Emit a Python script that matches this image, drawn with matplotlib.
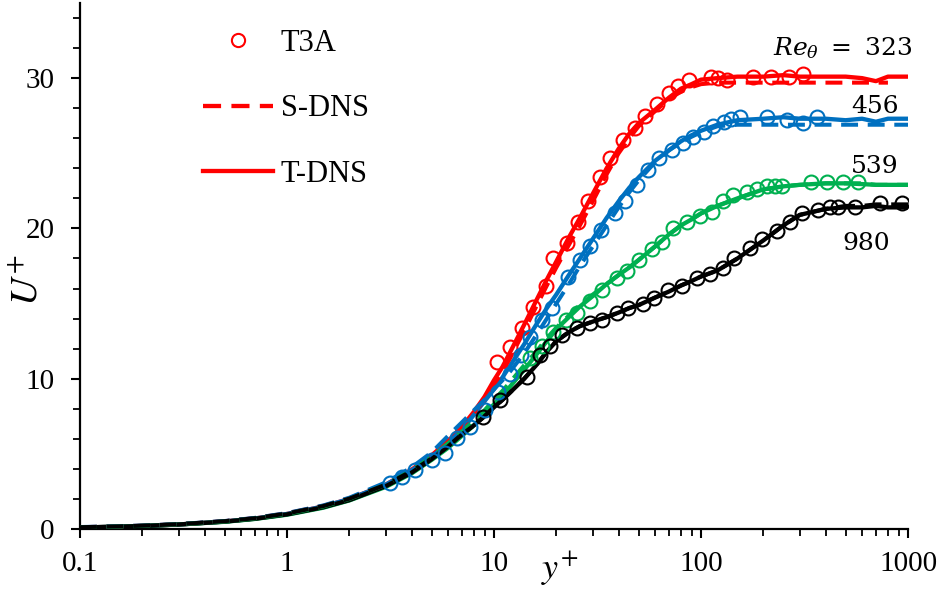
import numpy as np
import matplotlib
matplotlib.use("Agg")
import matplotlib.pyplot as plt
from matplotlib.lines import Line2D
from matplotlib.ticker import MultipleLocator, NullFormatter

plt.rcParams['font.family'] = 'serif'
plt.rcParams['font.serif'] = ['Liberation Serif']

# y+ grid shared by the DNS lines
yp = [0.1, 0.15, 0.2, 0.3, 0.5, 0.7, 1, 1.5, 2, 3, 4, 5, 6, 7, 8, 9, 10, 11, 12, 14, 16, 18,
      20, 23, 26, 30, 35, 40, 45, 50, 60, 70, 80, 90, 100, 120, 150, 200, 250, 300, 400, 500,
      600, 700, 800, 900, 1000]

# Re_theta = 323 (red)
red_t = [0.1, 0.15, 0.2, 0.3, 0.5, 0.7, 1.0, 1.5, 2.0, 2.95, 3.95, 4.9, 5.85, 6.8, 7.8, 8.8, 9.9,
         10.8, 11.8, 13.6, 15.2, 16.6, 17.8, 19.4, 20.7, 22.3, 24.0, 25.3, 26.3, 27.0, 27.9, 28.7,
         29.3, 29.6, 29.9, 30.0, 30.1, 30.1, 30.2, 30.1, 30.1, 30.1, 30.0, 29.8, 30.1, 30.1, 30.1]
red_s = [0.12, 0.17, 0.22, 0.32, 0.52, 0.73, 1.05, 1.55, 2.05, 3.0, 4.0, 4.95, 5.9, 6.8, 7.7, 8.6,
         9.6, 10.5, 11.4, 13.2, 14.8, 16.2, 17.4, 18.9, 20.2, 21.8, 23.6, 25.0, 26.0, 26.8, 27.8,
         28.6, 29.1, 29.4, 29.6, 29.7, 29.7, 29.7, 29.7, 29.7, 29.7, 29.7, 29.7, 29.7, 29.7,
         np.nan, np.nan]
red_exp_y = [10.3, 11.9, 13.6, 15.4, 17.8, 19.3, 22.6, 25.4, 28.5, 32.6, 36.5, 42.1, 47.8, 53.5,
             61.1, 69.8, 77.8, 87.3, 112, 121, 134, 178, 218, 266, 311]
red_exp_u = [11.1, 12.1, 13.4, 14.8, 16.2, 18.0, 19.0, 20.4, 21.8, 23.4, 24.7, 25.9, 26.7, 27.5,
             28.3, 29.0, 29.5, 29.9, 30.1, 30.0, 29.9, 30.1, 30.1, 30.1, 30.3]

# Re_theta = 456 (blue)
blue_t = [0.1, 0.15, 0.2, 0.3, 0.5, 0.7, 1.0, 1.5, 2.0, 2.95, 3.9, 4.8, 5.7, 6.6, 7.6, 8.5, 9.3,
          10.1, 10.9, 12.3, 13.6, 14.7, 15.6, 16.9, 18.0, 19.3, 20.7, 21.8, 22.7, 23.4, 24.5, 25.2,
          25.8, 26.2, 26.5, 26.9, 27.2, 27.3, 27.4, 27.3, 27.3, 27.2, 27.3, 27.1, 27.3, 27.3, 27.3]
blue_s = [0.13, 0.18, 0.23, 0.33, 0.53, 0.74, 1.06, 1.57, 2.08, 3.1, 4.1, 5.1, 6.2, 7.1, 7.9, 8.6,
          9.3, 9.9, 10.5, 11.7, 12.9, 14.0, 15.0, 16.3, 17.5, 18.8, 20.2, 21.4, 22.4, 23.2, 24.4,
          25.2, 25.7, 26.1, 26.4, 26.8, 26.9, 26.9, 26.9, 26.9, 26.9, 26.9, 26.9, 26.9, 26.9,
          26.9, 26.9]
blue_exp_y = [3.14, 3.6, 4.14, 5.0, 5.8, 6.6, 7.65, 9.0, 10.5, 12.0, 13.5, 14.9, 17.1, 19.1, 22.9,
              26.1, 29.1, 33.0, 38.3, 42.9, 49.1, 55.4, 62.7, 72.2, 81.5, 91.4, 103, 114, 129,
              140, 154, 208, 260, 311, 363]
blue_exp_u = [3.06, 3.46, 3.93, 4.6, 5.06, 6.05, 6.8, 7.9, 9.1, 10.3, 11.6, 12.8, 13.9, 14.7, 16.8,
              17.9, 18.8, 19.9, 21.0, 21.8, 22.9, 23.9, 24.7, 25.2, 25.7, 26.1, 26.4, 26.8, 27.1,
              27.3, 27.4, 27.4, 27.2, 27.0, 27.4]

# Re_theta = 539 (green)
green_t = [0.1, 0.15, 0.2, 0.3, 0.48, 0.67, 0.95, 1.42, 1.9, 2.8, 3.7, 4.6, 5.4, 6.2, 6.9, 7.6, 8.3,
           8.9, 9.5, 10.6, 11.6, 12.5, 13.3, 14.1, 14.8, 15.5, 16.3, 16.9, 17.4, 17.9, 18.8, 19.6,
           20.2, 20.6, 21.0, 21.5, 22.0, 22.6, 22.8, 22.9, 23.0, 23.0, 22.95, 22.9, 22.9, 22.9, 22.9]
green_s = [0.11, 0.16, 0.21, 0.31, 0.5, 0.7, 1.0, 1.5, 2.0, 2.95, 3.9, 4.8, 5.7, 6.5, 7.2, 7.9, 8.6,
           9.2, 9.8, 10.9, 11.8, 12.7, 13.4, 14.2, 14.9, 15.6, 16.3, 16.9, 17.4, 17.9, 18.8, 19.6,
           20.2, 20.6, 21.0, 21.5, 22.0, 22.6, 22.8, 22.9, 23.0, 23.0, 23.0, 22.9, 22.9, 22.9, 22.9]
green_exp_y = [14.9, 17.1, 19.3, 22.2, 25.1, 29.1, 33.3, 39.4, 44.1, 49.9, 58.0, 65.0, 73.5, 85.8,
               99.4, 113, 128, 143, 167, 186, 208, 228, 246, 340, 406, 486, 573]
green_exp_u = [11.4, 12.2, 13.1, 13.9, 14.4, 15.2, 15.9, 16.7, 17.2, 17.9, 18.6, 19.1, 20.0, 20.4,
               20.8, 21.1, 21.8, 22.2, 22.4, 22.6, 22.8, 22.8, 22.8, 23.1, 23.1, 23.1, 23.1]

# Re_theta = 980 (black)
black_t = [0.1, 0.15, 0.2, 0.3, 0.49, 0.68, 0.97, 1.45, 1.92, 2.85, 3.75, 4.65, 5.5, 6.3, 6.9, 7.5,
           8.1, 8.6, 9.1, 10.0, 10.9, 11.8, 12.5, 13.1, 13.5, 13.8, 14.1, 14.4, 14.7, 14.9, 15.4,
           15.8, 16.2, 16.5, 16.8, 17.2, 18.0, 19.2, 20.2, 20.9, 21.3, 21.4, 21.4, 21.5, 21.4,
           21.4, 21.4]
black_s = [0.12, 0.17, 0.22, 0.32, 0.52, 0.72, 1.03, 1.53, 2.02, 2.95, 3.85, 4.7, 5.5, 6.3, 6.9,
           7.5, 8.1, 8.6, 9.1, 10.0, 10.9, 11.8, 12.5, 13.1, 13.5, 13.8, 14.1, 14.4, 14.7, 14.9,
           15.4, 15.8, 16.2, 16.5, 16.8, 17.2, 18.0, 19.2, 20.2, 20.9, 21.3, 21.5, 21.5, 21.6,
           21.6, 21.6, 21.6]
black_exp_y = [8.85, 10.7, 14.4, 16.7, 18.6, 21.4, 25.1, 29.1, 33.4, 39.2, 44.6, 52.4, 59.6, 68.9,
               80.7, 95.5, 110, 128, 145, 172, 197, 233, 269, 307, 367, 420, 459, 555, 733, 935]
black_exp_u = [7.45, 8.6, 10.1, 11.6, 12.2, 12.9, 13.4, 13.7, 13.9, 14.4, 14.7, 15.0, 15.4, 15.9,
               16.2, 16.7, 17.0, 17.4, 18.0, 18.7, 19.3, 19.8, 20.4, 21.0, 21.2, 21.4, 21.4, 21.4,
               21.7, 21.7]

series = [
    ('#FF0000', red_t, red_s, red_exp_y, red_exp_u),
    ('#0070C0', blue_t, blue_s, blue_exp_y, blue_exp_u),
    ('#00B050', green_t, green_s, green_exp_y, green_exp_u),
    ('#000000', black_t, black_s, black_exp_y, black_exp_u),
]

fig = plt.figure(figsize=(9.43, 5.91), dpi=100)
ax = fig.add_axes([80 / 943, 62 / 591, 828 / 943, 526 / 591])

for c, ut, us, ey, eu in series:
    ax.plot(yp, ut, color=c, lw=3.1, solid_capstyle='butt', zorder=2)
for c, ut, us, ey, eu in series:
    ax.plot(yp, us, color=c, lw=2.9, ls=(0, (4.2, 2.4)), zorder=3)
for c, ut, us, ey, eu in series:
    ax.plot(ey, eu, ls='none', marker='o', ms=10, mfc='none', mec=c, mew=1.5, zorder=4)

ax.set_xscale('log')
ax.set_xlim(0.1, 1000)
ax.set_ylim(0, 35)
ax.set_xticks([0.1, 1, 10, 100, 1000])
ax.set_xticklabels(['0.1', '1', '10', '100', '1000'])
ax.xaxis.set_minor_formatter(NullFormatter())
ax.set_yticks([0, 10, 20, 30])
ax.yaxis.set_minor_locator(MultipleLocator(2))

for s in ['top', 'right']:
    ax.spines[s].set_visible(False)
for s in ['left', 'bottom']:
    ax.spines[s].set_linewidth(1.6)
ax.tick_params(which='major', direction='out', length=6.5, width=1.5, labelsize=21)
ax.tick_params(which='minor', direction='out', length=5, width=1.3)
ax.tick_params(axis='y', which='major', pad=12)
ax.tick_params(axis='x', which='major', pad=9)

fig.text(27 / 943, 1 - 280 / 591, r'$U^{+}$', rotation=90, ha='center', va='center',
         fontsize=28, math_fontfamily='stix')
fig.text(560 / 943, 1 - 578 / 591, r'$y^{+}$', ha='center', va='baseline',
         fontsize=26, math_fontfamily='stix')

ax.text(1.005, 0.901, r'$Re_{\theta}\ =\ 323$', transform=ax.transAxes, ha='right',
        va='baseline', fontsize=18, family='DejaVu Serif', math_fontfamily='dejavuserif')
for lab, xf, yf in [('456', 0.989, 0.791), ('539', 0.988, 0.677), ('980', 0.978, 0.530)]:
    ax.text(xf, yf, lab, transform=ax.transAxes, ha='right', va='baseline',
            fontsize=18, family='DejaVu Serif')

handles = [
    Line2D([], [], ls='none', marker='o', ms=9.5, mfc='none', mec='#FF0000', mew=1.5),
    Line2D([], [], color='#FF0000', lw=3.1, ls=(0, (4.2, 2.4))),
    Line2D([], [], color='#FF0000', lw=3.1),
]
ax.legend(handles, ['T3A', 'S-DNS', 'T-DNS'], loc='center left',
          bbox_to_anchor=(203 / 943, 1 - 109 / 591), bbox_transform=fig.transFigure,
          frameon=False, fontsize=22, borderpad=0, borderaxespad=0, handlelength=2.3,
          handletextpad=0.25, labelspacing=1.2)

fig.savefig('out.png', dpi=100)
